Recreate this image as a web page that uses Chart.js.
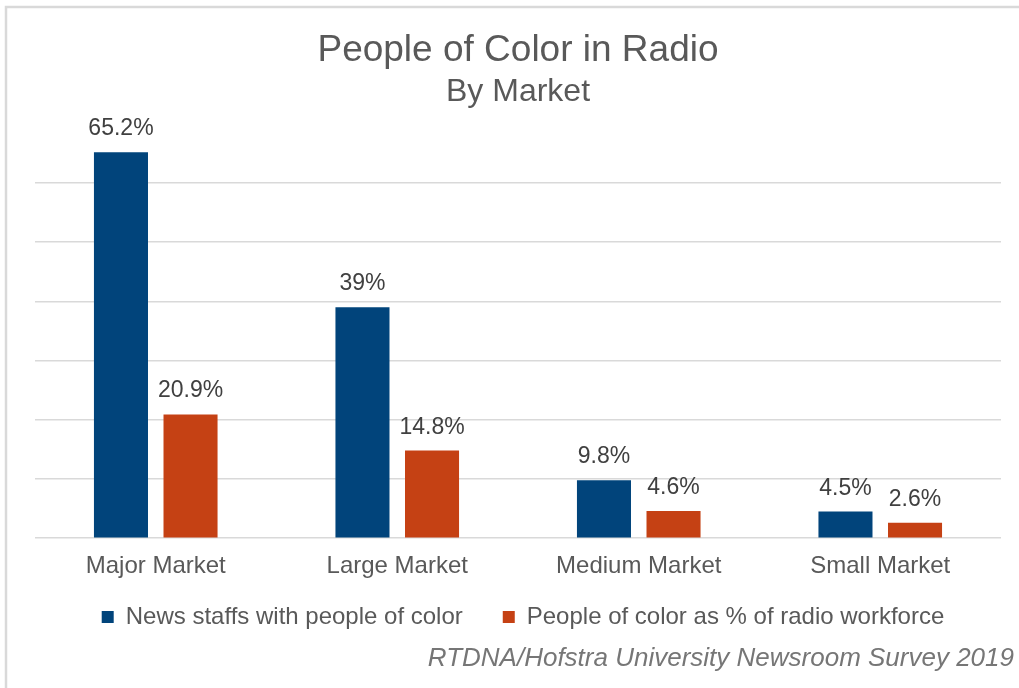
<!DOCTYPE html>
<html>
<head>
<meta charset="utf-8">
<script src="https://cdn.jsdelivr.net/npm/chart.js@4"></script>
<style>
  html, body { margin: 0; padding: 0; background: #fff; }
  #wrap { width: 1019px; height: 688px; }
</style>
</head>
<body>
<div id="wrap"><canvas id="radio-chart"></canvas></div>
<script>
const markets = ["Major Market", "Large Market", "Medium Market", "Small Market"];
const newsStaffs = [65.2, 39, 9.8, 4.5];
const workforce = [20.9, 14.8, 4.6, 2.6];
const seriesNames = ["News staffs with people of color", "People of color as % of radio workforce"];
const sourceNote = "RTDNA/Hofstra University Newsroom Survey 2019";

const FONT = "'Liberation Sans', Arial, sans-serif";

// white background + the grey frame on top/left
const framePlugin = {
  id: "frame",
  beforeDraw(chart) {
    const ctx = chart.ctx;
    ctx.save();
    ctx.fillStyle = "#fff";
    ctx.fillRect(0, 0, chart.width, chart.height);
    ctx.strokeStyle = "#d9d9d9";
    ctx.lineWidth = 2.5;
    ctx.beginPath();
    ctx.moveTo(6, chart.height);
    ctx.lineTo(6, 7);
    ctx.lineTo(chart.width, 7);
    ctx.stroke();
    ctx.restore();
  }
};

// legend sits closer to the axis labels than chart.js puts it
const legendNudge = {
  id: "legendNudge",
  afterLayout(chart) {
    const lg = chart.legend;
    lg.top -= 30;
    lg.bottom -= 30;
    lg.left += 5;
    lg.right += 5;
  }
};

// value labels above bars
const valueLabels = {
  id: "valueLabels",
  afterDatasetsDraw(chart) {
    const ctx = chart.ctx;
    ctx.save();
    ctx.font = "23px " + FONT;
    ctx.fillStyle = "#404040";
    ctx.textAlign = "center";
    ctx.textBaseline = "alphabetic";
    chart.data.datasets.forEach((ds, i) => {
      chart.getDatasetMeta(i).data.forEach((bar, j) => {
        ctx.fillText(ds.data[j] + "%", bar.x, bar.y - 17);
      });
    });
    ctx.restore();
  }
};

// source line, bottom right
const sourcePlugin = {
  id: "source",
  afterDraw(chart) {
    const ctx = chart.ctx;
    ctx.save();
    ctx.font = "italic 26px " + FONT;
    ctx.fillStyle = "#767676";
    ctx.textAlign = "right";
    ctx.textBaseline = "middle";
    ctx.fillText(sourceNote, 1014, 659);
    ctx.restore();
  }
};

new Chart(document.getElementById("radio-chart"), {
  type: "bar",
  data: {
    labels: markets,
    datasets: [
      {
        label: seriesNames[0],
        data: newsStaffs,
        backgroundColor: "#01447b",
        categoryPercentage: 0.576,
        barPercentage: 0.777
      },
      {
        label: seriesNames[1],
        data: workforce,
        backgroundColor: "#c54114",
        categoryPercentage: 0.576,
        barPercentage: 0.777
      }
    ]
  },
  options: {
    responsive: true,
    maintainAspectRatio: false,
    animation: false,
    layout: { padding: { left: 35, right: 18, top: 0, bottom: 19 } },
    scales: {
      x: {
        grid: { display: false, drawTicks: false },
        border: { display: false },
        ticks: { color: "#595959", font: { family: FONT, size: 24 }, padding: 14 }
      },
      y: {
        min: 0,
        max: 70,
        ticks: { display: false, stepSize: 10 },
        border: { display: false },
        grid: {
          drawTicks: false,
          lineWidth: 1.5,
          color: (c) => (c.tick && c.tick.value === 70 ? "rgba(0,0,0,0)" : "#d9d9d9")
        }
      }
    },
    plugins: {
      title: {
        display: true,
        text: "People of Color in Radio",
        color: "#595959",
        font: { family: FONT, size: 37, weight: "normal" },
        padding: { top: 29, bottom: 0 }
      },
      subtitle: {
        display: true,
        text: "By Market",
        color: "#595959",
        font: { family: FONT, size: 32 },
        padding: { top: 0, bottom: 12 }
      },
      legend: {
        position: "bottom",
        labels: {
          color: "#595959",
          font: { family: FONT, size: 24 },
          boxWidth: 12,
          boxHeight: 12,
          padding: 40
        }
      },
      tooltip: { enabled: false }
    }
  },
  plugins: [framePlugin, legendNudge, valueLabels, sourcePlugin]
});
</script>
</body>
</html>
